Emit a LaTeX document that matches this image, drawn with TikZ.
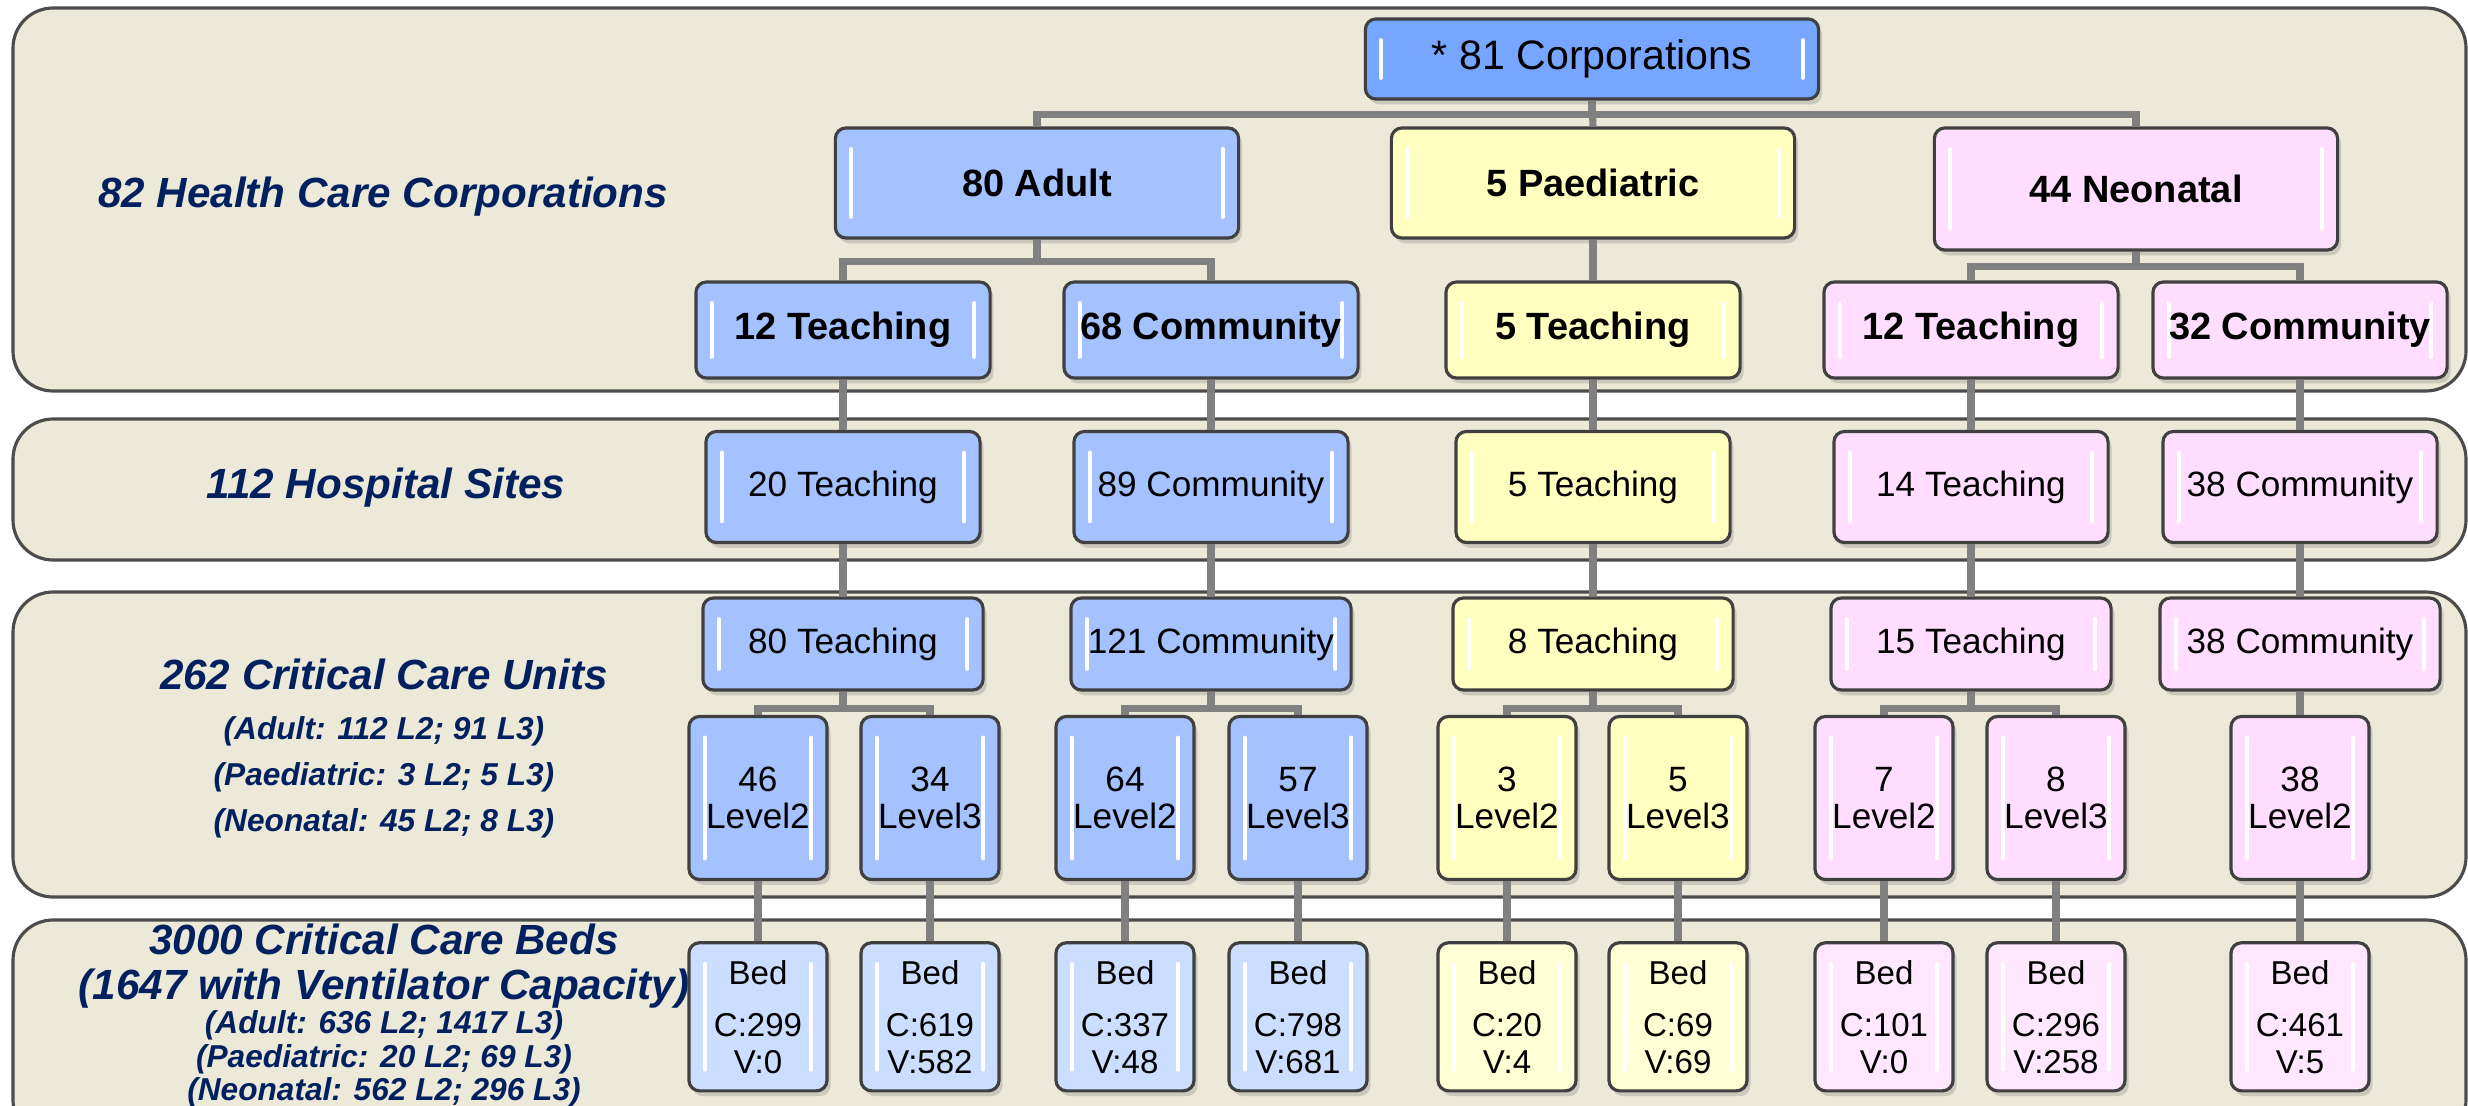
\documentclass[tikz,border=0pt]{standalone}
\usepackage{fontspec}
\setmainfont{Liberation Sans}
\usetikzlibrary{positioning,shadows}

\definecolor{bandfill}{RGB}{236,233,216}
\definecolor{navy}{RGB}{0,32,96}
\definecolor{corpblue}{RGB}{118,166,255}
\definecolor{adultblue}{RGB}{164,194,255}
\definecolor{paedyellow}{RGB}{255,255,192}
\definecolor{neopink}{RGB}{255,221,255}
\definecolor{bedblue}{RGB}{204,222,255}
\definecolor{bedyellow}{RGB}{255,255,214}
\definecolor{bedpink}{RGB}{255,232,255}
\definecolor{linkgray}{RGB}{128,128,128}

\begin{document}
\begin{tikzpicture}[
		x=0.01cm, y=-0.01cm,
		band/.style={draw=black!70, line width=0.9pt, fill=bandfill, rounded corners=0.4cm},
		rowtitle/.style={text=navy, font=\fontsize{12}{12.8}\selectfont\bfseries\itshape, align=center},
		rownote/.style={text=navy, font=\fontsize{9}{13.1}\selectfont\bfseries\itshape, align=center},
		box/.style={rectangle, rounded corners=3pt, draw=black!75, line width=0.9pt, align=center, inner sep=1pt,
			drop shadow={shadow xshift=1pt, shadow yshift=-1.5pt, opacity=0.3},
			path picture={
				\draw[white, line width=1.1pt, line cap=round]
				([xshift=4.5pt,yshift=-6pt]path picture bounding box.north west) --
				([xshift=4.5pt,yshift=6pt]path picture bounding box.south west)
				([xshift=-4.5pt,yshift=-6pt]path picture bounding box.north east) --
				([xshift=-4.5pt,yshift=6pt]path picture bounding box.south east);}},
		head/.style={box, minimum width=4.03cm, minimum height=1.1cm, font=\fontsize{10.8}{12}\selectfont\bfseries},
		corp/.style={box, minimum width=2.94cm, minimum height=0.96cm, font=\fontsize{10.8}{12}\selectfont\bfseries},
		site/.style={box, minimum width=2.74cm, minimum height=1.11cm, font=\fontsize{10}{12}\selectfont},
		unit/.style={box, minimum width=2.80cm, minimum height=0.92cm, font=\fontsize{10}{12}\selectfont},
		level/.style={box, minimum width=1.38cm, minimum height=1.63cm, font=\fontsize{10}{10.3}\selectfont},
		bed/.style={box, minimum width=1.38cm, minimum height=1.48cm, font=\fontsize{9.4}{10.5}\selectfont},
		link/.style={draw=linkgray, line width=2pt}
	]
	\useasboundingbox (0,0) rectangle (2468,1106);

	% the four bands
	\draw[band] (13,8) rectangle (2466,391);
	\draw[band] (13,419) rectangle (2466,560);
	\draw[band] (13,592) rectangle (2466,897);
	\draw[band] (13,920) rectangle (2466,1140);

	\node[rowtitle] (corptitle) at (383,197) {82 Health Care Corporations};
	\node[rowtitle] (sitetitle) at (386,488) {112 Hospital Sites};
	\node[rowtitle] (unittitle) at (384,674) {262 Critical Care Units};
	\node[rownote] (unitnote) at (384,777) {(Adult: 112 L2; 91 L3)\\(Paediatric: 3 L2; 5 L3)\\(Neonatal: 45 L2; 8 L3)};
	\node[rowtitle] (bedtitle) at (384,966) {3000 Critical Care Beds\\(1647 with Ventilator Capacity)};
	\node[rownote, font=\fontsize{9}{9.5}\selectfont\bfseries\itshape] (bednote) at (384,1059) {(Adult: 636 L2; 1417 L3)\\(Paediatric: 20 L2; 69 L3)\\(Neonatal: 562 L2; 296 L3)};

	% corporations
	\node[box, fill=corpblue, minimum width=4.53cm, minimum height=0.8cm, font=\fontsize{11.7}{13}\selectfont] (corporations) at (1592,59) {* 81 Corporations};
	\node[head, fill=adultblue] (adult) at (1037,183) {80 Adult};
	\node[head, fill=paedyellow] (paediatric) at (1593,183) {5 Paediatric};
	\node[head, fill=neopink, minimum height=1.22cm] (neonatal) at (2136,189) {44 Neonatal};
	\node[corp, fill=adultblue] (adultteaching) at (843,330) {12 Teaching};
	\node[corp, fill=adultblue] (adultcommunity) at (1211,330) {68 Community};
	\node[corp, fill=paedyellow] (paedteaching) at (1593,330) {5 Teaching};
	\node[corp, fill=neopink] (neoteaching) at (1971,330) {12 Teaching};
	\node[corp, fill=neopink] (neocommunity) at (2300,330) {32 Community};

	% hospital sites
	\node[site, fill=adultblue] (site1) at (843,487) {20 Teaching};
	\node[site, fill=adultblue] (site2) at (1211,487) {89 Community};
	\node[site, fill=paedyellow] (site3) at (1593,487) {5 Teaching};
	\node[site, fill=neopink] (site4) at (1971,487) {14 Teaching};
	\node[site, fill=neopink] (site5) at (2300,487) {38 Community};

	% critical care units
	\node[unit, fill=adultblue] (unit1) at (843,644) {80 Teaching};
	\node[unit, fill=adultblue] (unit2) at (1211,644) {121 Community};
	\node[unit, fill=paedyellow] (unit3) at (1593,644) {8 Teaching};
	\node[unit, fill=neopink] (unit4) at (1971,644) {15 Teaching};
	\node[unit, fill=neopink] (unit5) at (2300,644) {38 Community};

	\node[level, fill=adultblue] (level1) at (758,798) {46\\Level2};
	\node[level, fill=adultblue] (level2) at (930,798) {34\\Level3};
	\node[level, fill=adultblue] (level3) at (1125,798) {64\\Level2};
	\node[level, fill=adultblue] (level4) at (1298,798) {57\\Level3};
	\node[level, fill=paedyellow] (level5) at (1507,798) {3\\Level2};
	\node[level, fill=paedyellow] (level6) at (1678,798) {5\\Level3};
	\node[level, fill=neopink] (level7) at (1884,798) {7\\Level2};
	\node[level, fill=neopink] (level8) at (2056,798) {8\\Level3};
	\node[level, fill=neopink] (level9) at (2300,798) {38\\Level2};

	% beds
	\node[bed, fill=bedblue] (bed1) [below=0.6cm of level1] {Bed\\[4.3pt]C:299\\V:0};
	\node[bed, fill=bedblue] (bed2) [below=0.6cm of level2] {Bed\\[4.3pt]C:619\\V:582};
	\node[bed, fill=bedblue] (bed3) [below=0.6cm of level3] {Bed\\[4.3pt]C:337\\V:48};
	\node[bed, fill=bedblue] (bed4) [below=0.6cm of level4] {Bed\\[4.3pt]C:798\\V:681};
	\node[bed, fill=bedyellow] (bed5) [below=0.6cm of level5] {Bed\\[4.3pt]C:20\\V:4};
	\node[bed, fill=bedyellow] (bed6) [below=0.6cm of level6] {Bed\\[4.3pt]C:69\\V:69};
	\node[bed, fill=bedpink] (bed7) [below=0.6cm of level7] {Bed\\[4.3pt]C:101\\V:0};
	\node[bed, fill=bedpink] (bed8) [below=0.6cm of level8] {Bed\\[4.3pt]C:296\\V:258};
	\node[bed, fill=bedpink] (bed9) [below=0.6cm of level9] {Bed\\[4.3pt]C:461\\V:5};

	% connectors
	\draw[link] (corporations.south) -- (paediatric.north);
	\draw[link] (corporations.south) -- ++(0,14) -| (adult.north);
	\draw[link] (corporations.south) -- ++(0,14) -| (neonatal.north);
	\draw[link] (adult.south) -- ++(0,22) -| (adultteaching.north);
	\draw[link] (adult.south) -- ++(0,22) -| (adultcommunity.north);
	\draw[link] (paediatric.south) -- (paedteaching.north);
	\draw[link] (neonatal.south) -- ++(0,15) -| (neoteaching.north);
	\draw[link] (neonatal.south) -- ++(0,15) -| (neocommunity.north);

	\draw[link] (adultteaching.south) -- (site1.north);
	\draw[link] (adultcommunity.south) -- (site2.north);
	\draw[link] (paedteaching.south) -- (site3.north);
	\draw[link] (neoteaching.south) -- (site4.north);
	\draw[link] (neocommunity.south) -- (site5.north);

	\draw[link] (site1.south) -- (unit1.north);
	\draw[link] (site2.south) -- (unit2.north);
	\draw[link] (site3.south) -- (unit3.north);
	\draw[link] (site4.south) -- (unit4.north);
	\draw[link] (site5.south) -- (unit5.north);

	\draw[link] (unit1.south) -- ++(0,17) -| (level1.north);
	\draw[link] (unit1.south) -- ++(0,17) -| (level2.north);
	\draw[link] (unit2.south) -- ++(0,17) -| (level3.north);
	\draw[link] (unit2.south) -- ++(0,17) -| (level4.north);
	\draw[link] (unit3.south) -- ++(0,17) -| (level5.north);
	\draw[link] (unit3.south) -- ++(0,17) -| (level6.north);
	\draw[link] (unit4.south) -- ++(0,17) -| (level7.north);
	\draw[link] (unit4.south) -- ++(0,17) -| (level8.north);
	\draw[link] (unit5.south) -- (level9.north);

	\draw[link] (level1.south) -- (bed1.north);
	\draw[link] (level2.south) -- (bed2.north);
	\draw[link] (level3.south) -- (bed3.north);
	\draw[link] (level4.south) -- (bed4.north);
	\draw[link] (level5.south) -- (bed5.north);
	\draw[link] (level6.south) -- (bed6.north);
	\draw[link] (level7.south) -- (bed7.north);
	\draw[link] (level8.south) -- (bed8.north);
	\draw[link] (level9.south) -- (bed9.north);
\end{tikzpicture}
\end{document}
